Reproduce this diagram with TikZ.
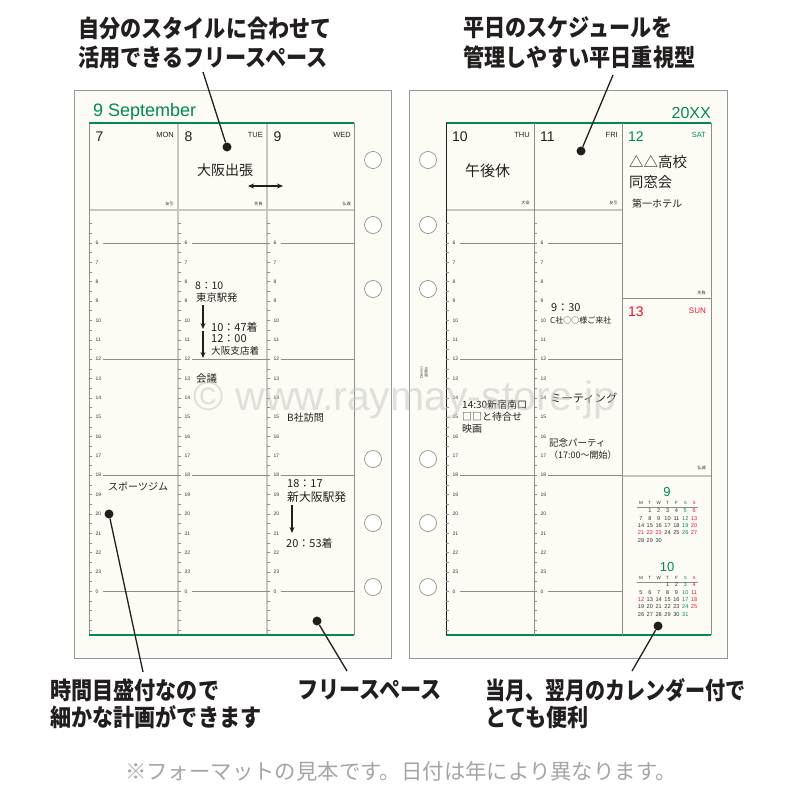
\documentclass[tikz,border=0pt]{standalone}
\usepackage{fontspec}
\setmainfont{Liberation Sans}
\newfontfamily\jp{Noto Sans CJK JP}
\usetikzlibrary{arrows.meta}
\definecolor{cream}{RGB}{253,252,244}
\definecolor{pgborder}{RGB}{150,150,150}
\definecolor{dgreen}{RGB}{0,138,80}
\definecolor{dred}{RGB}{232,20,50}
\definecolor{gridgray}{RGB}{140,140,140}
\definecolor{hdrgray}{RGB}{200,196,190}
\definecolor{ink}{RGB}{35,30,30}
\definecolor{calink}{RGB}{50,50,50}
\definecolor{footgray}{RGB}{165,165,165}
\definecolor{wmgray}{RGB}{200,200,200}
\tikzset{
  page/.style={draw=pgborder, fill=cream, line width=0.8},
  hole/.style={circle, draw=gray, fill=white, minimum size=17, inner sep=0, line width=0.6},
  gridl/.style={draw=gridgray, line width=0.6},
  darkl/.style={draw=ink, line width=0.9},
  coldiv/.style={draw=hdrgray, line width=1.6},
  hdrline/.style={draw=hdrgray, line width=2},
  greenline/.style={draw=dgreen, line width=1.6},
  tickline/.style={draw=gridgray, line width=0.5},
  hourline/.style={draw=gridgray, line width=0.5},
  hourlab/.style={anchor=west, inner sep=0, font=\fontsize{5}{6}\selectfont, text=calink},
  daynum/.style={anchor=base west, inner sep=0, font=\fontsize{14}{16}\selectfont, text=ink},
  dayname/.style={anchor=base east, inner sep=0, font=\fontsize{7.5}{9}\selectfont, text=ink},
  rokuyo/.style={anchor=east, inner sep=0, font=\jp\fontsize{4.2}{5}\selectfont, text=calink},
  hw/.style={anchor=west, inner sep=0, font=\jp\fontsize{#1}{#1}\selectfont, text=ink},
  hw/.default=10,
  lab/.style={anchor=west, inner sep=0, xscale=0.88, font=\jp\bfseries\fontsize{24}{26}\selectfont, text=ink},
  dot/.style={circle, fill=ink, inner sep=0, minimum size=9},
  conn/.style={draw=ink, line width=1.3},
  hand/.style={draw=ink, line width=1.3, -{Stealth[length=6pt,width=5pt]}},
  calhd/.style={inner sep=0, font=\fontsize{4.5}{5}\selectfont, text=calink},
  calnum/.style={inner sep=0, font=\fontsize{5.6}{6}\selectfont},
  calmonth/.style={inner sep=0, font=\fontsize{13}{14}\selectfont, text=dgreen},
}
\newcommand\tcol[3]{%
  \foreach \k in {0,...,42}{\draw[tickline] (#1,{223.65+\k*9.675}) -- ++(3,0);}
  \foreach \h in {6,...,24}{%
    \pgfmathtruncatemacro\lab{mod(\h,24)}%
    \node[hourlab] (#3-h\h) at (#1+6.5,{243+(\h-6)*19.35}) {\lab};}
  \foreach \h in {6,12,18,24}{\draw[hourline] (#1+14,{243+(\h-6)*19.35}) -- (#2,{243+(\h-6)*19.35});}
}
\begin{document}
\begin{tikzpicture}[x=1pt,y=-1pt]
\fill[white] (0,0) rectangle (800,800);
\useasboundingbox (0,0) rectangle (800,800);

% ---------- pages
\draw[page] (74,90) rectangle (391,658);
\draw[page] (409,90) rectangle (727,658);

% holes
\foreach \y [count=\i] in {160,225,289,459,523,587}{
  \node[hole] (hl\i) at (373,\y) {};
  \node[hole] (hr\i) at (428,\y) {};
}

% ---------- left page grid
\node[anchor=base west, inner sep=0, text=dgreen, font=\fontsize{18}{20}\selectfont] (lmonth) at (93,116) {9 September};
\draw[hdrline] (89,210) -- (354,210);
\draw[gridl] (89,123) -- (89,635);
\draw[coldiv] (178,123) -- (178,635);
\draw[coldiv] (267,123) -- (267,635);
\draw[gridl] (354,123) -- (354,635);
\draw[greenline] (89,123) -- (354,123);
\draw[greenline] (89,635) -- (354,635);
\tcol{89}{178}{c1}
\tcol{178}{267}{c2}
\tcol{267}{354}{c3}

\node[daynum] (d7) at (95.5,141) {7};
\node[daynum] (d8) at (184.5,141) {8};
\node[daynum] (d9) at (273.5,141) {9};
\node[dayname] (n7) at (174,137) {MON};
\node[dayname] (n8) at (263,137) {TUE};
\node[dayname] (n9) at (351,137) {WED};
\node[rokuyo] (r7) at (174,204) {友引};
\node[rokuyo] (r8) at (263,204) {先負};
\node[rokuyo] (r9) at (351,204) {仏滅};

% ---------- right page grid
\node[anchor=base east, inner sep=0, text=dgreen, font=\fontsize{16}{18}\selectfont] (ryear) at (711,118) {20XX};
\draw[greenline] (446,123) -- (711,123);
\draw[greenline] (446,635) -- (711,635);
\draw[hdrline] (446,210) -- (622,210);
\draw[gridl] (622,298) -- (711,298);
\draw[hdrline] (622,476) -- (711,476);
\draw[darkl] (446,123) -- (446,635);
\draw[gridl] (534,123) -- (534,635);
\draw[gridl] (622,123) -- (622,635);
\draw[gridl] (711,123) -- (711,635);
\tcol{446}{534}{c4}
\tcol{534}{622}{c5}

\node[daynum] (d10) at (452,141) {10};
\node[daynum] (d11) at (540,141) {11};
\node[daynum, text=dgreen] (d12) at (628,141) {12};
\node[daynum, text=dred] (d13) at (628,316) {13};
\node[dayname] (n10) at (530,137) {THU};
\node[dayname] (n11) at (618,137) {FRI};
\node[dayname, text=dgreen] (n12) at (706,137) {SAT};
\node[dayname, text=dred, font=\fontsize{8}{9}\selectfont] (n13) at (706,313) {SUN};
\node[rokuyo] (r10) at (530,203) {大安};
\node[rokuyo] (r11) at (618,203) {友引};
\node[rokuyo] (r12) at (706,293) {先負};
\node[rokuyo] (r13) at (706,468) {仏滅};
\node[rotate=90, inner sep=0, align=right, font=\fontsize{3.6}{5}\selectfont, text=calink] (brand) at (424,373) {Davinci\\{\jp 週間-8}};

% ---------- calendars
\node[calmonth] (m9) at (667,492) {9};
\node[calmonth] (m10) at (667,567) {10};
\foreach \yy/\tg in {503/a,578/b}{
  \foreach \c/\l in {1/M,2/T,3/W,4/T,5/F}
    \node[calhd] (ch\tg\c) at ({641+(\c-1)*8.85},\yy) {\l};
  \node[calhd, text=dgreen] (ch\tg6) at ({641+5*8.85},\yy) {S};
  \node[calhd, text=dred] (ch\tg7) at ({641+6*8.85},\yy) {S};
  \draw[draw=gridgray, line width=0.3] (637,\yy+4) -- (698,\yy+4);
}
\foreach \c/\r/\n/\cl in {2/1/1/calink,3/1/2/calink,4/1/3/calink,5/1/4/calink,6/1/5/dgreen,7/1/6/dred,
  1/2/7/calink,2/2/8/calink,3/2/9/calink,4/2/10/calink,5/2/11/calink,6/2/12/dgreen,7/2/13/dred,
  1/3/14/calink,2/3/15/calink,3/3/16/calink,4/3/17/calink,5/3/18/calink,6/3/19/dgreen,7/3/20/dred,
  1/4/21/dred,2/4/22/dred,3/4/23/dred,4/4/24/calink,5/4/25/calink,6/4/26/dgreen,7/4/27/dred,
  1/5/28/calink,2/5/29/calink,3/5/30/calink}
  \node[calnum, text=\cl] (sa\n) at ({641+(\c-1)*8.85},{511+(\r-1)*7.3}) {\n};
\foreach \c/\r/\n/\cl in {4/1/1/calink,5/1/2/calink,6/1/3/dgreen,7/1/4/dred,
  1/2/5/calink,2/2/6/calink,3/2/7/calink,4/2/8/calink,5/2/9/calink,6/2/10/dgreen,7/2/11/dred,
  1/3/12/dred,2/3/13/calink,3/3/14/calink,4/3/15/calink,5/3/16/calink,6/3/17/dgreen,7/3/18/dred,
  1/4/19/calink,2/4/20/calink,3/4/21/calink,4/4/22/calink,5/4/23/calink,6/4/24/dgreen,7/4/25/dred,
  1/5/26/calink,2/5/27/calink,3/5/28/calink,4/5/29/calink,5/5/30/calink,6/5/31/dgreen}
  \node[calnum, text=\cl] (oc\n) at ({641+(\c-1)*8.85},{585+(\r-1)*7.3}) {\n};

% ---------- handwritten notes, left page
\node[hw=14] (w1) at (197,170) {大阪出張};
\coordinate (da1) at (248,186); \coordinate (da2) at (283,186);
\draw[draw=ink, line width=1.3, {Stealth[length=6pt,width=5pt]}-{Stealth[length=6pt,width=5pt]}] (da1) -- (da2);
\node[hw=10.5] (w2) at (195,286) {8：10};
\node[hw=10.3] (w3) at (196,298) {東京駅発};
\coordinate (a1s) at (203,305); \coordinate (a1e) at (203,329);
\draw[hand] (a1s) -- (a1e);
\node[hw=11] (w4) at (211,327) {10：47着};
\node[hw=11] (w5) at (211,339) {12：00};
\node[hw=9.6] (w6) at (211,351) {大阪支店着};
\coordinate (a2s) at (203,331); \coordinate (a2e) at (203,358);
\draw[hand] (a2s) -- (a2e);
\node[hw=10.5] (w7) at (196,379) {会議};
\node[hw=10] (w8) at (287,418) {B社訪問};
\node[hw=10] (w9) at (108,486) {スポーツジム};
\node[hw=11] (w10) at (287,484) {18：17};
\node[hw=11.8] (w11) at (287,497) {新大阪駅発};
\coordinate (a3s) at (292,505); \coordinate (a3e) at (292,533);
\draw[hand] (a3s) -- (a3e);
\node[hw=11] (w12) at (286,543) {20：53着};

% ---------- handwritten notes, right page
\node[hw=15] (v1) at (465,171) {午後休};
\node[hw=14.5] (v2) at (629,162) {△△高校};
\node[hw=14.3] (v3) at (629,182) {同窓会};
\node[hw=10] (v4) at (632,204) {第一ホテル};
\node[hw=11] (v5) at (551,308) {9：30};
\node[hw=8] (v6) at (550,320) {C社○○様ご来社};
\node[hw=10] (v7) at (462,405) {14:30新宿南口};
\node[hw=10] (v8) at (462,417) {□□と待合せ};
\node[hw=10] (v9) at (462,429) {映画};
\node[hw=11.3] (v10) at (550,398) {ミーティング};
\node[hw=9.5] (v11) at (549,443) {記念パーティ};
\node[hw=9] (v12) at (549,455) {（17:00～開始）};

% ---------- watermark
\node[inner sep=0, text=wmgray, opacity=0.55, font=\fontsize{41}{44}\selectfont] (wm) at (405,400) {© www.raymay-store.jp};

% ---------- annotation labels
\node[lab] (L1a) at (78,28) {自分のスタイルに合わせて};
\node[lab] (L1b) at (78,57) {活用できるフリースペース};
\node[lab] (L2a) at (463,28) {平日のスケジュールを};
\node[lab] (L2b) at (463,57) {管理しやすい平日重視型};
\node[lab] (L3a) at (50,690) {時間目盛付なので};
\node[lab] (L3b) at (50,717) {細かな計画ができます};
\node[lab] (L4) at (297,690) {フリースペース};
\node[lab, xscale=0.95] (L5a) at (485,690) {当月、翌月のカレンダー付で};
\node[lab] (L5b) at (485,717) {とても便利};
\node[inner sep=0, text=footgray, font=\jp\fontsize{21.4}{24}\selectfont] (foot) at (401,771) {※フォーマットの見本です。日付は年により異なります。};

% dots and connectors
\node[dot] (pA) at (227,147) {};
\node[dot] (pB) at (581,151) {};
\node[dot] (pC) at (109,514) {};
\node[dot] (pD) at (317,621) {};
\node[dot] (pE) at (658,626) {};
\coordinate (eA) at (203,72);
\coordinate (eB) at (613,75);
\coordinate (eC) at (143,672);
\coordinate (eD) at (347,671);
\coordinate (eE) at (632,671);
\draw[conn] (eA) -- (pA);
\draw[conn] (eB) -- (pB);
\draw[conn] (pC) -- (eC);
\draw[conn] (pD) -- (eD);
\draw[conn] (pE) -- (eE);
\end{tikzpicture}
\end{document}
